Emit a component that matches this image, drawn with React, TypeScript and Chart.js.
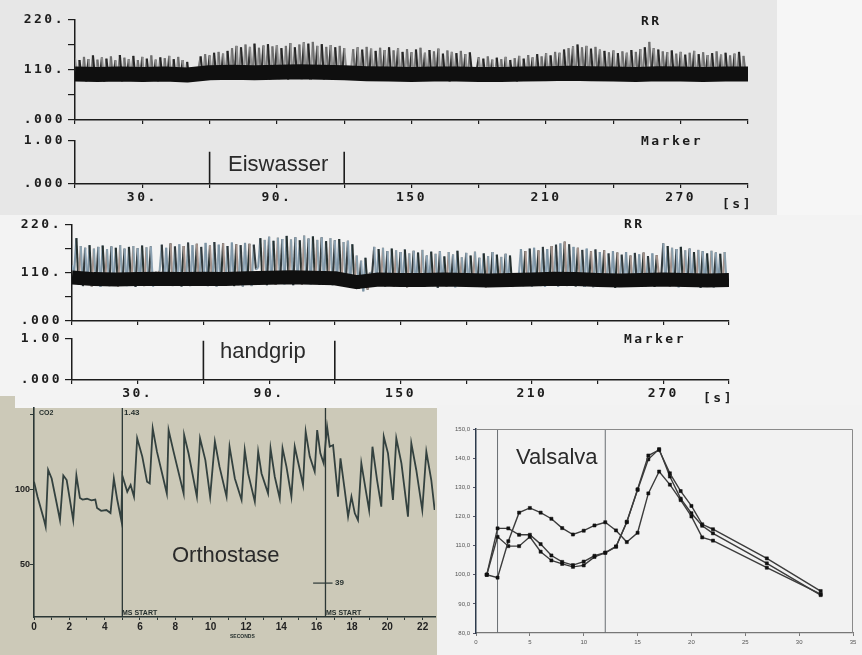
import React, { useEffect, useRef } from "react";
import { Chart, registerables } from "chart.js";
Chart.register(...registerables);

// ---------------- DATA ----------------
// RR panels (time axis in seconds)
const rrStep = 1; // one RR sample per second
const coreStep = 10; // dense lower band, one value per 10 s
const rrTickTimes = [0, 30, 60, 90, 120, 150, 180, 210, 240, 270, 300];
const rrLabelTimes = [30, 90, 150, 210, 270];
const rrLabelTexts = ["30.", "90.", "150", "210", "270"];
const rrYTicks = [0, 55, 110, 165, 220];
const rrYLabels = [".000", "", "110.", "", "220."];
const markerYTicks = [0, 1];
const markerYLabels = [".000", "1.00"];

// Panel 1: Eiswasser
const rr1 = [
  136, 86, 132, 90, 139, 85, 134, 88, 142, 87,
  133, 90, 138, 84, 135, 89, 140, 86, 131, 91,
  143, 85, 137, 88, 134, 92, 141, 86, 132, 89,
  139, 84, 135, 90, 142, 87, 133, 85, 138, 91,
  136, 86, 141, 89, 134, 84, 139, 88, 132, 87,
  128, 86, 104, 97, 101, 112, 140, 92, 145, 90,
  142, 94, 148, 91, 150, 89, 146, 93, 152, 90,
  158, 92, 163, 88, 160, 95, 166, 90, 161, 93,
  168, 89, 159, 94, 164, 91, 167, 88, 162, 96,
  165, 90, 158, 93, 163, 89, 169, 92, 160, 95,
  166, 90, 171, 93, 168, 88, 172, 94, 163, 91,
  167, 89, 161, 95, 165, 92, 160, 90, 163, 94,
  158, 106, 102, 110, 156, 91, 160, 89, 155, 94,
  161, 88, 157, 92, 152, 90, 159, 86, 154, 93,
  160, 89, 153, 91, 158, 87, 150, 92, 156, 88,
  149, 90, 155, 86, 159, 91, 148, 89, 154, 87,
  151, 92, 157, 88, 146, 90, 153, 85, 150, 91,
  147, 88, 152, 90, 145, 87, 149, 100, 97, 108,
  138, 91, 135, 88, 140, 92, 133, 86, 137, 90,
  134, 89, 139, 87, 132, 91, 136, 85, 141, 90,
  135, 88, 143, 92, 138, 86, 145, 90, 140, 89,
  147, 91, 142, 87, 150, 93, 148, 89, 155, 90,
  158, 92, 162, 88, 166, 94, 160, 90, 163, 91,
  157, 89, 161, 93, 155, 87, 152, 91, 149, 88,
  153, 90, 147, 86, 151, 92, 148, 89, 154, 90,
  150, 88, 156, 91, 160, 95, 172, 104, 158, 92,
  155, 90, 151, 93, 149, 87, 153, 91, 146, 89,
  150, 92, 144, 88, 148, 90, 152, 86, 145, 91,
  149, 89, 143, 92, 147, 87, 151, 90, 144, 88,
  148, 91, 142, 86, 146, 90, 150, 88, 141, 98,
];
const core1 = [101, 100, 101, 100, 101, 99, 104, 105, 104, 105, 106, 105, 104, 102, 101, 100, 101, 101, 100, 100, 101, 102, 103, 102, 101, 100, 102, 101, 100, 101, 101];
const marker1Times = [60, 120];
const marker1Level = 0.75;

// Panel 2: handgrip
const rr2 = [
  128, 112, 190, 84, 172, 80, 168, 83, 174, 79,
  166, 82, 170, 78, 173, 84, 165, 80, 171, 83,
  168, 79, 174, 82, 166, 80, 170, 84, 172, 78,
  167, 83, 173, 80, 169, 82, 171, 79, 112, 108,
  114, 175, 81, 168, 84, 178, 80, 171, 83, 176,
  79, 172, 82, 180, 80, 174, 84, 177, 81, 170,
  83, 179, 80, 173, 82, 181, 79, 175, 84, 178,
  81, 172, 83, 180, 80, 176, 82, 174, 79, 179,
  83, 177, 80, 175, 118, 122, 190, 85, 186, 82,
  193, 86, 184, 83, 191, 87, 188, 84, 195, 85,
  187, 82, 192, 86, 185, 83, 196, 88, 189, 84,
  194, 85, 186, 83, 192, 87, 183, 84, 190, 82,
  185, 86, 188, 83, 181, 85, 184, 80, 176, 82,
  150, 74, 138, 68, 145, 72, 112, 105, 170, 80,
  165, 82, 168, 79, 160, 83, 166, 78, 162, 81,
  158, 80, 164, 77, 155, 82, 161, 79, 157, 81,
  163, 78, 150, 83, 159, 80, 154, 76, 160, 82,
  148, 79, 158, 81, 152, 77, 161, 80, 146, 83,
  156, 78, 150, 82, 159, 79, 145, 81, 155, 77,
  149, 80, 158, 78, 152, 82, 147, 79, 154, 81,
  150, 78, 108, 100, 104, 165, 80, 160, 82, 166,
  79, 168, 83, 162, 80, 170, 78, 165, 82, 172,
  81, 175, 79, 178, 84, 182, 80, 176, 83, 170,
  79, 168, 82, 163, 78, 166, 81, 160, 77, 164,
  80, 158, 82, 162, 78, 155, 81, 160, 76, 157,
  80, 152, 83, 158, 79, 150, 82, 156, 78, 153,
  81, 157, 79, 149, 82, 155, 78, 151, 104, 98,
  178, 82, 172, 79, 168, 81, 165, 77, 170, 80,
  162, 78, 166, 81, 158, 79, 163, 76, 160, 82,
  155, 79, 161, 77, 157, 80, 154, 78, 158, 81,
];
const core2 = [100, 96, 95, 96, 97, 96, 97, 96, 98, 99, 100, 99, 98, 89, 95, 94, 94, 95, 94, 93, 94, 95, 97, 96, 94, 93, 94, 95, 94, 93, 94];
const marker2Times = [60, 120];
const marker2Level = 0.96;

// Orthostase trace
const orthoT = [
  0, 0.2, 0.57, 0.66, 0.8, 1.0, 1.28, 1.47, 1.66, 1.85,
  2.22, 2.4, 2.6, 2.75, 3.0, 3.25, 3.47, 3.57, 3.8, 4.1,
  4.33, 4.52, 4.71, 4.94, 5.0, 5.28, 5.47, 5.66, 5.84, 6.13,
  6.4, 6.55, 6.72, 6.96, 7.52, 7.62, 7.9, 8.47, 8.5, 8.75,
  9.22, 9.4, 9.7, 9.97, 10.24, 10.5, 10.9, 11.07, 11.37, 11.75,
  11.93, 12.12, 12.5, 12.69, 12.88, 13.25, 13.39, 13.63, 13.91, 14.07,
  14.29, 14.57, 14.76, 15.05, 15.23, 15.38, 15.61, 15.89, 16.03, 16.21,
  16.4, 16.59, 16.74, 16.93, 17.21, 17.35, 17.59, 17.78, 17.97, 18.16,
  18.34, 18.53, 18.78, 18.97, 19.16, 19.42, 19.66, 19.8, 20.04, 20.32,
  20.51, 20.8, 21.17, 21.36, 21.64, 21.98, 22.21, 22.49, 22.68,
];
const orthoV = [
  104.9, 94.9, 79.3, 74.9, 112.7, 107, 90.7, 79.3, 109, 106,
  79.3, 109, 94, 93, 93.5, 92.5, 93, 87.3, 85.5, 86,
  84, 107, 93, 79.3, 109, 98.2, 102.7, 94.9, 133.8, 121.6,
  104.9, 103.8, 140.4, 124.9, 97, 139.3, 124.9, 97, 136, 123.7,
  94.9, 133.8, 119.3, 94.9, 131.6, 114.9, 94.9, 128.2, 107, 92.7,
  126, 110.4, 91.6, 124.9, 110.4, 97.1, 127.1, 108.2, 93.8, 127.1,
  114.9, 94.9, 128.2, 112.7, 102.7, 138.2, 121.6, 111.6, 139.3, 123.8,
  117.1, 141.6, 128.2, 129.3, 94.9, 120.4, 99.3, 81.6, 94.9, 83.8,
  79.3, 117.1, 99.3, 86, 128.2, 106, 88.2, 134.9, 123.8, 92.7,
  133.8, 117.1, 81.6, 130.4, 112.7, 86, 124.9, 106, 86,
];
const orthoXTicks = [0, 1, 2, 3, 4, 5, 6, 7, 8, 9, 10, 11, 12, 13, 14, 15, 16, 17, 18, 19, 20, 21, 22];
const orthoXLabelTicks = [0, 2, 4, 6, 8, 10, 12, 14, 16, 18, 20, 22];
const orthoYTicks = [50, 100, 150];
const orthoYLabels = ["50", "100", ""];
const orthoEvents = [5, 16.5];
const ortho39 = { t0: 15.8, t1: 16.9, v: 37.3 };

// Valsalva
const valsX = [1, 2, 3, 4, 5, 6, 7, 8, 9, 10, 11, 12, 13, 14, 15, 16, 17, 18, 19, 20, 21, 22, 27, 32];
const valsA = [100, 99, 111.5, 121.3, 122.9, 121.3, 119.2, 116, 113.8, 115.1, 116.9, 118, 115.2, 111.2, 114.4, 127.9, 135.4, 130.9, 125.6, 120, 112.8, 111.7, 102.4, 93.3];
const valsB = [100, 115.9, 115.9, 113.7, 113.7, 110.5, 106.6, 104.4, 103.3, 104.5, 106.5, 107.6, 109.7, 118, 129.3, 140.9, 142.8, 134.8, 128.7, 123.6, 117.3, 115.6, 105.6, 94.4];
const valsC = [100, 113, 109.8, 109.8, 113, 107.9, 104.9, 103.7, 102.7, 103.2, 106.1, 107.5, 109.6, 118.2, 129.1, 139.6, 143.1, 133.7, 126.1, 121.1, 116.8, 114.2, 103.9, 93];
const valsEvents = [2, 12];
const valsXTicks = [0, 5, 10, 15, 20, 25, 30, 35];
const valsYTicks = [80, 90, 100, 110, 120, 130, 140, 150];

// ---------------- STYLE ----------------
const ink = "#1c1c1c";
const mono = '"DejaVu Sans Mono", "Liberation Mono", monospace';
const sans = '"Liberation Sans", Arial, sans-serif';
const rr1Colors = ["#8c8c8c", "#7a7a7a", "#262626", "#949494", "#6e6e6e", "#303030"];
const rr2Colors = ["#8ea3b3", "#7d94a4", "#26302f", "#a3918a", "#8aa0ad", "#31393c"];

type Area = { l: number; r: number; t: number; b: number };
type Box = { left: number; top: number; width: number; height: number };

function fix(size: number, horizontal: boolean) {
  return (scale: any) => {
    if (horizontal) scale.height = size;
    else scale.width = size;
    scale.paddingTop = 0;
    scale.paddingBottom = 0;
    scale.paddingLeft = 0;
    scale.paddingRight = 0;
  };
}
function setTicks(values: number[]) {
  return (scale: any) => {
    scale.ticks = values.map((v) => ({ value: v }));
  };
}
function labelFrom(values: number[], labels: string[]) {
  return (v: any) => {
    const i = values.indexOf(Number(v));
    return i >= 0 ? labels[i] : "";
  };
}
function spacing(px: string) {
  return {
    id: "letterSpacing",
    beforeUpdate(chart: any) {
      chart.ctx.letterSpacing = px;
    },
    beforeDraw(chart: any) {
      chart.ctx.letterSpacing = px;
    },
  };
}
const boxPlugin = {
  id: "frame",
  afterDatasetsDraw(chart: any) {
    const { ctx, chartArea: c } = chart;
    ctx.save();
    ctx.strokeStyle = "#8a8a8a";
    ctx.lineWidth = 1;
    ctx.beginPath();
    ctx.moveTo(c.left, c.top + 0.5);
    ctx.lineTo(c.right - 0.5, c.top + 0.5);
    ctx.lineTo(c.right - 0.5, c.bottom);
    ctx.stroke();
    ctx.restore();
  },
};

const baseOpts = (W: number, a: Area) => ({
  responsive: false,
  animation: false,
  events: [],
  layout: { padding: { left: 0, top: a.t, right: W - a.r, bottom: 0 } },
  plugins: { legend: { display: false }, tooltip: { enabled: false } },
});

const monoFont = { family: mono, size: 13, weight: "bold" };

function rrConfig(rr: number[], core: number[], colors: string[], coreWidth: number, W: number, H: number, a: Area) {
  return {
    type: "line",
    data: {
      datasets: [
        {
          data: core.map((v, i) => ({ x: i * coreStep, y: v })),
          borderColor: "#0f0f0f",
          borderWidth: coreWidth,
          pointRadius: 0,
          order: 0,
          borderJoinStyle: "round",
        },
        {
          data: rr.map((v, i) => ({ x: i * rrStep, y: v })),
          borderColor: colors[0],
          borderWidth: 2.1,
          pointRadius: 0,
          order: 1,
          segment: { borderColor: (c: any) => colors[c.p0DataIndex % colors.length] },
        },
      ],
    },
    options: {
      ...baseOpts(W, a),
      scales: {
        x: {
          type: "linear",
          min: 0,
          max: 300,
          afterBuildTicks: setTicks(rrTickTimes),
          afterFit: fix(H - a.b, true),
          ticks: { display: false, autoSkip: false },
          grid: { drawOnChartArea: false, tickLength: 4, color: ink, lineWidth: 1.2 },
          border: { color: ink, width: 1.5 },
        },
        y: {
          type: "linear",
          min: 0,
          max: 220,
          afterBuildTicks: setTicks(rrYTicks),
          afterFit: fix(a.l, false),
          ticks: { autoSkip: false, callback: labelFrom(rrYTicks, rrYLabels), font: monoFont, color: ink, padding: 3 },
          grid: { drawOnChartArea: false, tickLength: 7, color: ink, lineWidth: 1.2 },
          border: { color: ink, width: 1.5 },
        },
      },
    },
    plugins: [spacing("2.5px")],
  };
}

function markerConfig(times: number[], level: number, W: number, H: number, a: Area) {
  const pts: any[] = [];
  times.forEach((t) => {
    pts.push({ x: t, y: 0 }, { x: t, y: level }, { x: t, y: null });
  });
  return {
    type: "line",
    data: {
      datasets: [{ data: pts, borderColor: ink, borderWidth: 1.6, pointRadius: 0, spanGaps: false }],
    },
    options: {
      ...baseOpts(W, a),
      scales: {
        x: {
          type: "linear",
          min: 0,
          max: 300,
          afterBuildTicks: setTicks(rrTickTimes),
          afterFit: fix(H - a.b, true),
          ticks: { autoSkip: false, maxRotation: 0, callback: labelFrom(rrLabelTimes, rrLabelTexts), font: monoFont, color: ink, padding: 2 },
          grid: { drawOnChartArea: false, tickLength: 4, color: ink, lineWidth: 1.2 },
          border: { color: ink, width: 1.5 },
        },
        y: {
          type: "linear",
          min: 0,
          max: 1,
          afterBuildTicks: setTicks(markerYTicks),
          afterFit: fix(a.l, false),
          ticks: { autoSkip: false, callback: labelFrom(markerYTicks, markerYLabels), font: monoFont, color: ink, padding: 3 },
          grid: { drawOnChartArea: false, tickLength: 7, color: ink, lineWidth: 1.2 },
          border: { color: ink, width: 1.5 },
        },
      },
    },
    plugins: [spacing("2.5px")],
  };
}

const orthoMin = 14.7;
const orthoMax = 154;

function orthoConfig(W: number, H: number, a: Area) {
  const eventPts: any[] = [];
  orthoEvents.forEach((t) => {
    eventPts.push({ x: t, y: orthoMin }, { x: t, y: orthoMax }, { x: t, y: null });
  });
  const axisInk = "#2b3735";
  return {
    type: "line",
    data: {
      datasets: [
        {
          data: orthoT.map((t, i) => ({ x: t, y: orthoV[i] })),
          borderColor: "#33413f",
          borderWidth: 1.8,
          pointRadius: 0,
        },
        { data: eventPts, borderColor: axisInk, borderWidth: 1.3, pointRadius: 0 },
        {
          data: [
            { x: ortho39.t0, y: ortho39.v },
            { x: ortho39.t1, y: ortho39.v },
          ],
          borderColor: axisInk,
          borderWidth: 1.2,
          pointRadius: 0,
        },
      ],
    },
    options: {
      ...baseOpts(W, a),
      scales: {
        x: {
          type: "linear",
          min: 0,
          max: 22.7,
          afterBuildTicks: setTicks(orthoXTicks),
          afterFit: fix(H - a.b, true),
          ticks: {
            autoSkip: false,
            maxRotation: 0,
            callback: (v: any) => (orthoXLabelTicks.indexOf(Number(v)) >= 0 ? String(v) : ""),
            font: { family: sans, size: 10, weight: "bold" },
            color: "#222",
            padding: 1,
          },
          grid: { drawOnChartArea: false, tickLength: 3, color: axisInk, lineWidth: 1 },
          border: { color: axisInk, width: 1.6 },
        },
        y: {
          type: "linear",
          min: orthoMin,
          max: orthoMax,
          afterBuildTicks: setTicks(orthoYTicks),
          afterFit: fix(a.l, false),
          ticks: { autoSkip: false, callback: labelFrom(orthoYTicks, orthoYLabels), font: { family: sans, size: 9, weight: "bold" }, color: "#222", padding: 0 },
          grid: { drawOnChartArea: false, tickLength: 4, color: axisInk, lineWidth: 1 },
          border: { color: axisInk, width: 1.6 },
        },
      },
    },
  };
}

function valsConfig(W: number, H: number, a: Area) {
  const eventPts: any[] = [];
  valsEvents.forEach((t) => {
    eventPts.push({ x: t, y: 80 }, { x: t, y: 150 }, { x: t, y: null });
  });
  const series = (vals: number[]) => ({
    data: valsX.map((x, i) => ({ x, y: vals[i] })),
    borderColor: "#3c3c3c",
    borderWidth: 1.4,
    pointRadius: 2.2,
    pointStyle: "rect",
    pointBackgroundColor: "#111",
    pointBorderColor: "#111",
    pointBorderWidth: 0.5,
  });
  return {
    type: "line",
    data: {
      datasets: [
        series(valsA),
        series(valsB),
        series(valsC),
        { data: eventPts, borderColor: "#6a6f73", borderWidth: 1, pointRadius: 0 },
      ],
    },
    options: {
      ...baseOpts(W, a),
      scales: {
        x: {
          type: "linear",
          min: 0,
          max: 35,
          afterBuildTicks: setTicks(valsXTicks),
          afterFit: fix(H - a.b, true),
          ticks: { autoSkip: false, maxRotation: 0, font: { family: sans, size: 6 }, color: "#555", padding: 3 },
          grid: { drawOnChartArea: false, tickLength: 3, color: "#777", lineWidth: 1 },
          border: { color: "#777", width: 1.2 },
        },
        y: {
          type: "linear",
          min: 80,
          max: 150,
          afterBuildTicks: setTicks(valsYTicks),
          afterFit: fix(a.l, false),
          ticks: {
            autoSkip: false,
            callback: (v: any) => Number(v).toFixed(1).replace(".", ","),
            font: { family: sans, size: 6 },
            color: "#555",
            padding: 3,
          },
          grid: { drawOnChartArea: false, tickLength: 3, color: "#556", lineWidth: 1 },
          border: { color: "#2d3b4c", width: 1.5 },
        },
      },
    },
    plugins: [boxPlugin],
  };
}

// ---------------- COMPONENTS ----------------
function CanvasChart({ box, make }: { box: Box; make: () => any }) {
  const ref = useRef<HTMLCanvasElement | null>(null);
  useEffect(() => {
    if (!ref.current) return;
    const chart = new Chart(ref.current, make());
    return () => chart.destroy();
  }, []);
  return (
    <canvas
      ref={ref}
      width={box.width}
      height={box.height}
      style={{ position: "absolute", left: box.left, top: box.top, width: box.width, height: box.height, display: "block" }}
    />
  );
}

const monoLabel: React.CSSProperties = {
  position: "absolute",
  fontFamily: mono,
  fontWeight: 700,
  fontSize: 13,
  lineHeight: "13px",
  letterSpacing: "2.5px",
  color: ink,
  whiteSpace: "nowrap",
};
const bigLabel: React.CSSProperties = {
  position: "absolute",
  fontFamily: sans,
  fontSize: 22,
  lineHeight: "22px",
  color: "#2a2a2a",
  whiteSpace: "nowrap",
};
const tinyLabel = (size: number): React.CSSProperties => ({
  position: "absolute",
  fontFamily: sans,
  fontWeight: 700,
  fontSize: size,
  lineHeight: `${size}px`,
  color: "#26302e",
  whiteSpace: "nowrap",
});

export default function App() {
  const p1rr: Box = { left: 0, top: 0, width: 777, height: 130 };
  const p1mk: Box = { left: 0, top: 130, width: 777, height: 85 };
  const p2rr: Box = { left: 0, top: 215, width: 777, height: 115 };
  const p2mk: Box = { left: 0, top: 330, width: 777, height: 76 };
  const orth: Box = { left: 0, top: 400, width: 437, height: 255 };
  const vals: Box = { left: 437, top: 405, width: 425, height: 250 };

  return (
    <div style={{ position: "absolute", left: 0, top: 0, width: 862, height: 655, background: "#f4f4f4", overflow: "hidden" }}>
      {/* backgrounds */}
      <div style={{ position: "absolute", left: 0, top: 0, width: 777, height: 215, background: "#e7e7e7" }} />
      <div style={{ position: "absolute", left: 777, top: 0, width: 85, height: 215, background: "#f6f6f6" }} />
      <div style={{ position: "absolute", left: 0, top: 215, width: 862, height: 190, background: "#f3f3f3" }} />
      <div style={{ position: "absolute", left: 0, top: 396, width: 15, height: 12, background: "#ccc9b8" }} />
      <div style={{ position: "absolute", left: 0, top: 408, width: 437, height: 247, background: "#ccc9b8" }} />
      <div style={{ position: "absolute", left: 437, top: 405, width: 425, height: 250, background: "#f2f2f2" }} />

      <CanvasChart box={p1rr} make={() => rrConfig(rr1, core1, rr1Colors, 15, p1rr.width, p1rr.height, { l: 75, r: 748, t: 20, b: 120 })} />
      <CanvasChart box={p1mk} make={() => markerConfig(marker1Times, marker1Level, p1mk.width, p1mk.height, { l: 75, r: 748, t: 11, b: 54 })} />
      <CanvasChart box={p2rr} make={() => rrConfig(rr2, core2, rr2Colors, 14, p2rr.width, p2rr.height, { l: 72, r: 729, t: 10, b: 106 })} />
      <CanvasChart box={p2mk} make={() => markerConfig(marker2Times, marker2Level, p2mk.width, p2mk.height, { l: 72, r: 729, t: 9, b: 50 })} />
      <CanvasChart box={orth} make={() => orthoConfig(orth.width, orth.height, { l: 34, r: 435, t: 8, b: 217 })} />
      <CanvasChart box={vals} make={() => valsConfig(vals.width, vals.height, { l: 39, r: 416, t: 24, b: 228 })} />

      {/* panel 1 texts */}
      <div style={{ ...monoLabel, left: 641, top: 14 }}>RR</div>
      <div style={{ ...monoLabel, left: 641, top: 134 }}>Marker</div>
      <div style={{ ...monoLabel, left: 722, top: 197 }}>[s]</div>
      <div style={{ ...bigLabel, left: 228, top: 153 }}>Eiswasser</div>

      {/* panel 2 texts */}
      <div style={{ ...monoLabel, left: 624, top: 217 }}>RR</div>
      <div style={{ ...monoLabel, left: 624, top: 332 }}>Marker</div>
      <div style={{ ...monoLabel, left: 703, top: 391 }}>[s]</div>
      <div style={{ ...bigLabel, left: 220, top: 340 }}>handgrip</div>

      {/* orthostase texts */}
      <div style={{ ...tinyLabel(7), left: 39, top: 409 }}>CO2</div>
      <div style={{ ...tinyLabel(8), left: 124, top: 409 }}>1.43</div>
      <div style={{ ...tinyLabel(7), left: 122, top: 609 }}>MS START</div>
      <div style={{ ...tinyLabel(7), left: 326, top: 609 }}>MS START</div>
      <div style={{ ...tinyLabel(8), left: 335, top: 579 }}>39</div>
      <div style={{ ...tinyLabel(5), left: 230, top: 634 }}>SECONDS</div>
      <div style={{ ...bigLabel, left: 172, top: 544 }}>Orthostase</div>

      {/* valsalva text */}
      <div style={{ ...bigLabel, left: 516, top: 446 }}>Valsalva</div>
    </div>
  );
}
